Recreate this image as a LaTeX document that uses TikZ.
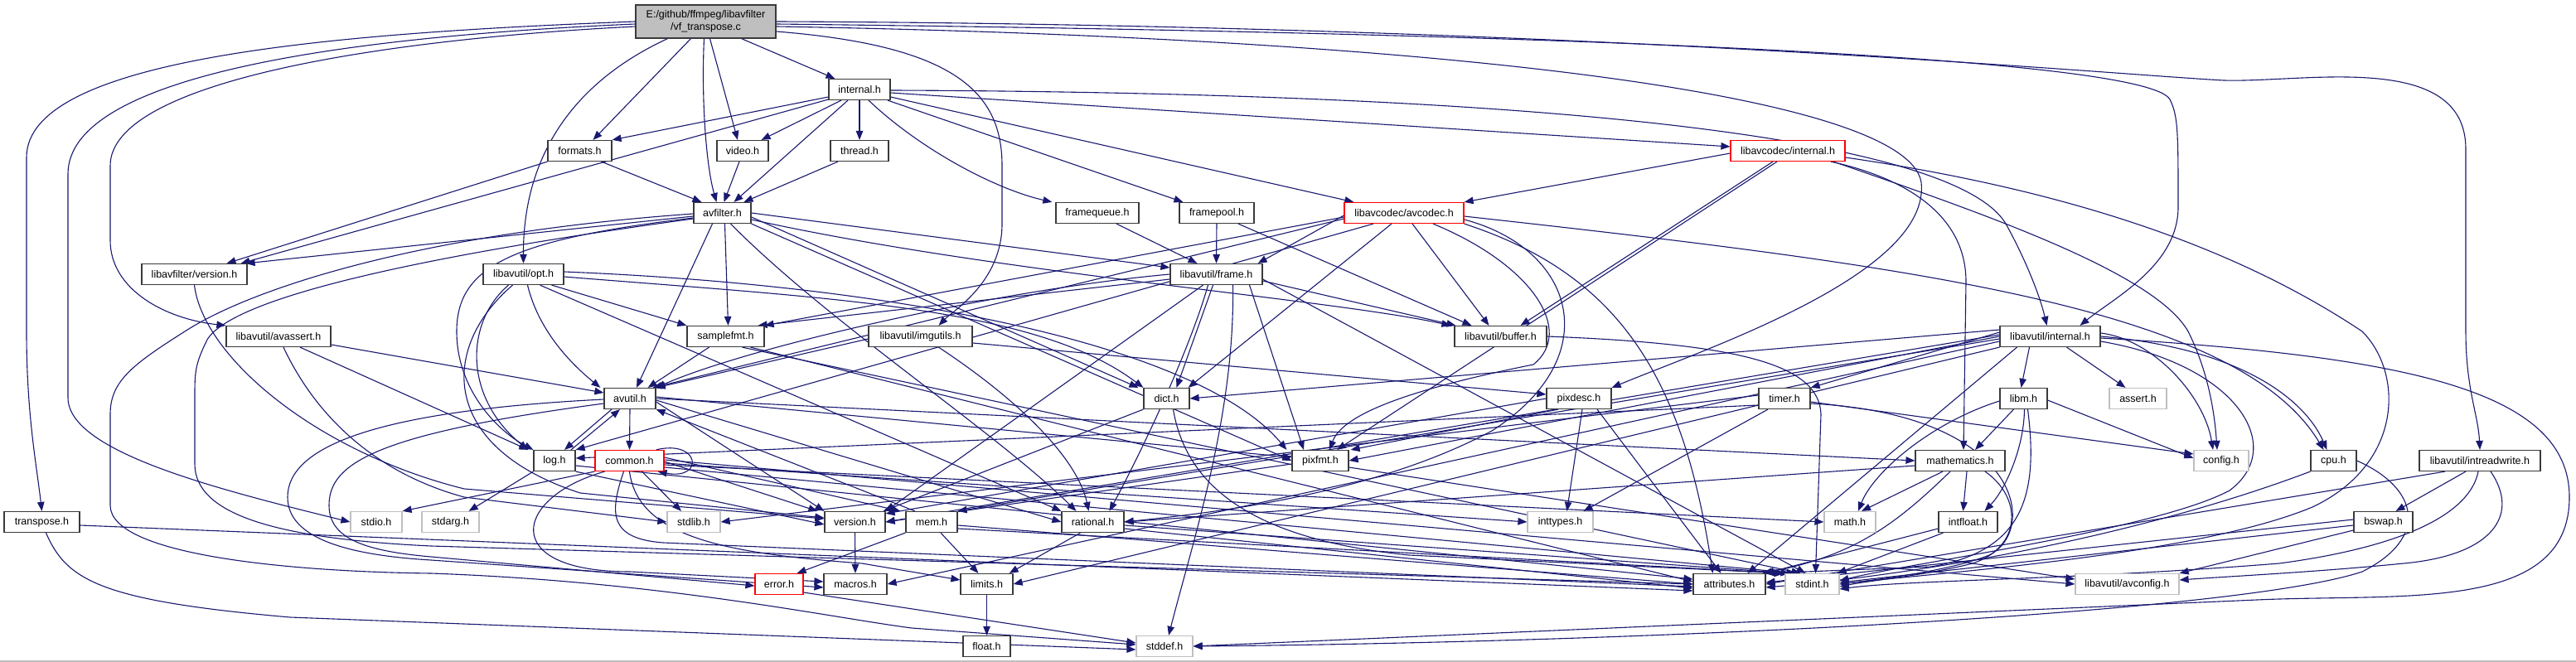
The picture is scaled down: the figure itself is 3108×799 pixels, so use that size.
\documentclass[tikz,border=0pt]{standalone}
\usepackage{fontspec}
\setmainfont{Liberation Sans}
\usetikzlibrary{arrows.meta}
\definecolor{edgec}{HTML}{191970}
\definecolor{rootfill}{HTML}{BFBFBF}
\definecolor{grayb}{HTML}{BFBFBF}
\definecolor{boxb}{HTML}{3A3A3A}
\pgfdeclarelayer{bg}
\pgfdeclarelayer{edges}
\pgfsetlayers{bg,edges,main}
\tikzset{
  box/.style={draw=boxb, line width=1.2pt, fill=white, minimum height=25pt, inner sep=0pt, font=\fontsize{12.5}{14}\selectfont},
  gbox/.style={box, draw=grayb},
  rbox/.style={box, draw=red},
  e/.style={draw=edgec, line width=1.1pt, -{Triangle[length=11pt,width=8.5pt]}},
}
\begin{document}
\begin{tikzpicture}[x=1pt,y=-1pt]
\useasboundingbox (0,0) rectangle (3108,799);
\begin{pgfonlayer}{bg}
\fill[white] (0,0) rectangle (3108,799);
\draw[grayb, line width=1.5pt] (0,798) -- (3108,798);
\end{pgfonlayer}
% nodes
\node[box, fill=rootfill, minimum width=169pt, minimum height=40pt, align=center, font=\fontsize{12.5}{15.5}\selectfont] (root) at (851.5,26) {E:/github/ffmpeg/libavfilter\\/vf\_transpose.c};
\node[box, minimum width=74pt] (internal) at (1037,108) {internal.h};
\node[box, minimum width=77pt] (formats) at (699.5,182) {formats.h};
\node[box, minimum width=62pt] (video) at (896,182) {video.h};
\node[box, minimum width=70pt] (thread) at (1037,182) {thread.h};
\node[rbox, minimum width=138pt] (lavcint) at (2157,182) {libavcodec/internal.h};
\node[box, minimum width=69pt] (avfilter) at (871.5,257) {avfilter.h};
\node[box, minimum width=100pt] (framequeue) at (1324,257) {framequeue.h};
\node[box, minimum width=90pt] (framepool) at (1468,257) {framepool.h};
\node[rbox, minimum width=144pt] (avcodec) at (1694,257) {libavcodec/avcodec.h};
\node[box, minimum width=127pt] (lavfver) at (234.5,331) {libavfilter/version.h};
\node[box, minimum width=97pt] (opt) at (631.5,331) {libavutil/opt.h};
\node[box, minimum width=111pt] (frame) at (1467.5,331) {libavutil/frame.h};
\node[box, minimum width=126pt] (avassert) at (336,406) {libavutil/avassert.h};
\node[box, minimum width=93pt] (samplefmt) at (875.5,406) {samplefmt.h};
\node[box, minimum width=125pt] (imgutils) at (1110.5,406) {libavutil/imgutils.h};
\node[box, minimum width=111pt] (buffer) at (1810.5,406) {libavutil/buffer.h};
\node[box, minimum width=121pt] (lavuint) at (2473.5,406) {libavutil/internal.h};
\node[box, minimum width=62pt] (avutil) at (760,481) {avutil.h};
\node[box, minimum width=55pt] (dict) at (1407.5,481) {dict.h};
\node[box, minimum width=78pt] (pixdesc) at (1905,481) {pixdesc.h};
\node[box, minimum width=62pt] (timer) at (2153,481) {timer.h};
\node[box, minimum width=57pt] (libm) at (2441.5,481) {libm.h};
\node[gbox, minimum width=69pt] (assert) at (2579.5,481) {assert.h};
\node[box, minimum width=50pt] (log) at (669,556) {log.h};
\node[rbox, minimum width=83pt] (common) at (759.5,556) {common.h};
\node[box, minimum width=68pt] (pixfmt) at (1593,556) {pixfmt.h};
\node[box, minimum width=108pt] (mathematics) at (2365,556) {mathematics.h};
\node[gbox, minimum width=66pt] (config) at (2680,556) {config.h};
\node[box, minimum width=55pt] (cpu) at (2815.5,556) {cpu.h};
\node[box, minimum width=146pt] (intreadwrite) at (2992,556) {libavutil/intreadwrite.h};
\node[box, minimum width=91pt] (transpose) at (50.5,630) {transpose.h};
\node[gbox, minimum width=62pt] (stdio) at (454,630) {stdio.h};
\node[gbox, minimum width=69pt] (stdarg) at (543.5,630) {stdarg.h};
\node[gbox, minimum width=64pt] (stdlib) at (837,630) {stdlib.h};
\node[box, minimum width=73pt] (version) at (1031.5,630) {version.h};
\node[box, minimum width=62pt] (mem) at (1124,630) {mem.h};
\node[box, minimum width=75pt] (rational) at (1318.5,630) {rational.h};
\node[gbox, minimum width=79pt] (inttypes) at (1882.5,630) {inttypes.h};
\node[gbox, minimum width=62pt] (math) at (2232,630) {math.h};
\node[box, minimum width=71pt] (intfloat) at (2374.5,630) {intfloat.h};
\node[box, minimum width=71pt] (bswap) at (2875.5,630) {bswap.h};
\node[rbox, minimum width=58pt] (error) at (940,705) {error.h};
\node[box, minimum width=76pt] (macros) at (1032,705) {macros.h};
\node[box, minimum width=63pt] (limits) at (1190.5,705) {limits.h};
\node[box, minimum width=87pt] (attributes) at (2086.5,705) {attributes.h};
\node[gbox, minimum width=65pt] (stdint) at (2186.5,705) {stdint.h};
\node[gbox, minimum width=125pt] (avconfig) at (2566.5,705) {libavutil/avconfig.h};
\node[box, minimum width=57pt] (float) at (1190.5,780) {float.h};
\node[gbox, minimum width=68pt] (stddef) at (1405,780) {stddef.h};

\begin{pgfonlayer}{edges}
% root
\draw[e] (root.west) .. controls (400,40) and (32,70) .. (32,190) -- (32,400) .. controls (32,500) and (44,560) .. (transpose.north);
\draw[e] ([yshift=-3pt]root.west) .. controls (420,44) and (82,90) .. (82,210) -- (82,480) .. controls (82,545) and (260,590) .. (stdio.west);
\draw[e] ([yshift=-6pt]root.west) .. controls (450,48) and (133,100) .. (133,200) -- (133,290) .. controls (133,350) and (200,385) .. (avassert.north west);
\draw[e] ([xshift=-46pt]root.south) .. controls (690,100) and (631,190) .. (opt.north);
\draw[e] ([xshift=-18pt]root.south) -- ([xshift=16pt]formats.north);
\draw[e] ([xshift=-2pt]root.south) .. controls (846,120) and (852,200) .. ([xshift=-7pt]avfilter.north);
\draw[e] ([xshift=5pt]root.south) -- ([xshift=-6pt]video.north);
\draw[e] ([xshift=43pt]root.south) -- ([xshift=8pt]internal.north west);
\draw[e] ([yshift=-12pt]root.east) .. controls (1150,55) and (1209,110) .. (1209,200) -- (1209,270) .. controls (1209,340) and (1150,375) .. ([xshift=22pt]imgutils.north);
\draw[e] ([yshift=-6pt]root.east) .. controls (1700,45) and (2300,110) .. (2318,220) .. controls (2330,330) and (2060,420) .. (pixdesc.north east);
\draw[e] ([yshift=-3pt]root.east) .. controls (1900,40) and (2590,70) .. (2618,120) .. controls (2628,140) and (2628,160) .. (2628,250) .. controls (2628,320) and (2550,360) .. ([xshift=36pt]lavuint.north);
\draw[e] (root.east) .. controls (1900,30) and (2550,90) .. (2683,97) .. controls (2780,100) and (2975,60) .. (2975,180) -- (2975,400) .. controls (2975,470) and (2990,500) .. (intreadwrite.north);
% internal.h
\draw[e] ([yshift=-9pt]internal.west) -- (formats.north east);
\draw[e] ([yshift=-12pt]internal.west) -- ([xshift=-8pt]lavfver.north east);
\draw[e] ([xshift=-22pt]internal.south) -- ([xshift=-9pt]video.north east);
\draw[e] ([xshift=-14pt]internal.south) -- ([xshift=14pt]avfilter.north);
\draw[e] (internal.south) -- (thread.north);
\draw[e] ([xshift=11pt]internal.south) .. controls (1110,180) and (1200,228) .. ([xshift=-4pt]framequeue.north west);
\draw[e] ([xshift=34pt]internal.south) -- ([xshift=5pt]framepool.north west);
\draw[e] ([yshift=-9pt]internal.east) -- ([xshift=12pt]avcodec.north west);
\draw[e] ([yshift=-4pt]internal.east) -- ([yshift=5pt]lavcint.west);
\draw[e] ([yshift=-1pt]internal.east) .. controls (1900,112) and (2360,170) .. (2420,270) .. controls (2445,315) and (2462,360) .. ([xshift=-4pt]lavuint.north);
% formats, video, thread, framequeue, framepool
\draw[e] ([xshift=26pt]formats.south) -- ([xshift=-25pt]avfilter.north);
\draw[e] (formats.south west) -- ([xshift=39pt]lavfver.north);
\draw[e] ([xshift=-4pt]video.south) -- ([xshift=2pt]avfilter.north);
\draw[e] ([xshift=-26pt]thread.south) -- ([xshift=26pt]avfilter.north);
\draw[e] ([xshift=23pt]framequeue.south) -- ([xshift=-23pt]frame.north);
\draw[e] (framepool.south) -- (frame.north);
\draw[e] ([xshift=26pt]framepool.south) -- ([xshift=21pt]buffer.north west);
% libavcodec/internal.h
\draw[e] ([yshift=-3pt]lavcint.west) -- (avcodec.north east);
\draw[e] ([xshift=-18pt]lavcint.south) -- ([xshift=24pt]buffer.north);
\draw[e] ([xshift=-13pt]lavcint.south) -- ([xshift=20pt]pixfmt.north);
\draw[e] ([xshift=52pt]lavcint.south) .. controls (2300,215) and (2372,260) .. (2372,340) -- ([xshift=4pt]mathematics.north);
\draw[e] ([xshift=55pt]lavcint.south) .. controls (2400,260) and (2600,330) .. (2640,400) .. controls (2665,450) and (2672,500) .. ([xshift=-5pt]config.north);
\draw[e] ([yshift=-8pt]lavcint.east) .. controls (2500,230) and (2700,300) .. (2850,400) .. controls (2900,450) and (2900,560) .. (2790,612) .. controls (2650,670) and (2350,690) .. (stdint.east);
% avfilter.h
\draw[e] ([yshift=-1pt]avfilter.west) .. controls (500,282) and (300,350) .. (223,400) .. controls (160,440) and (133,460) .. (133,500) -- (133,610) .. controls (133,670) and (350,690) .. (520,692) .. controls (800,702) and (1000,745) .. (1100,758) -- ([yshift=2pt]stddef.west);
\draw[e] ([yshift=-4pt]avfilter.west) -- ([xshift=-2pt]lavfver.north east);
\draw[e] ([yshift=-7pt]avfilter.west) .. controls (500,310) and (280,360) .. (250,410) .. controls (235,440) and (235,450) .. (235,480) -- (235,560) .. controls (235,620) and (330,650) .. (520,659) -- (attributes.west);
\draw[e] ([yshift=-6pt]avfilter.west) .. controls (620,289) and (551,320) .. (551,400) .. controls (551,470) and (600,520) .. (log.north west);
\draw[e] ([xshift=-12pt]avfilter.south) -- ([xshift=8pt]avutil.north);
\draw[e] ([xshift=3pt]avfilter.south) -- ([xshift=3pt]samplefmt.north);
\draw[e] (avfilter.east) -- ([yshift=8pt]frame.west);
\draw[e] ([yshift=-8pt]avfilter.east) .. controls (1200,330) and (1600,360) .. ([xshift=-4pt]buffer.north west);
\draw[e] ([yshift=-5pt]avfilter.east) -- ([xshift=-6pt]dict.north west);
\draw[e] (avfilter.south east) -- (pixfmt.west);
\draw[e] ([xshift=10pt]avfilter.south) .. controls (1000,390) and (1200,520) .. ([xshift=-20pt]rational.north);
% avcodec.h
\draw[e] ([yshift=-3pt]avcodec.west) -- ([xshift=-6pt]frame.north east);
\draw[e] ([yshift=-5pt]avcodec.west) -- (samplefmt.north east);
\draw[e] ([yshift=-7pt]avcodec.west) -- ([xshift=-4pt]avutil.north east);
\draw[e] ([xshift=-37pt]avcodec.south) -- (log.north east);
\draw[e] ([xshift=-15pt]avcodec.south) -- ([xshift=-2pt]dict.north east);
\draw[e] ([xshift=10pt]avcodec.south) -- ([xshift=-14pt]buffer.north);
\draw[e] ([xshift=35pt]avcodec.south) .. controls (1850,320) and (1900,400) .. (1850,440) .. controls (1700,470) and (1620,500) .. ([xshift=11pt]pixfmt.north);
\draw[e] ([yshift=-8pt]avcodec.east) .. controls (1900,300) and (1940,430) .. (1800,520) .. controls (1650,600) and (1450,620) .. (rational.east);
\draw[e] (avcodec.south east) .. controls (1950,330) and (2030,450) .. ([xshift=-20pt]attributes.north);
\draw[e] ([yshift=-4pt]avcodec.east) .. controls (2300,320) and (2700,370) .. ([xshift=-12pt]cpu.north);
% frame.h
\draw[e] ([xshift=20pt]frame.south) .. controls (1490,500) and (1440,650) .. ([xshift=5pt]stddef.north);
\draw[e] ([yshift=-6pt]frame.east) -- ([xshift=-8pt]stdint.north);
\draw[e] (frame.west) .. controls (1200,350) and (900,420) .. (avutil.north east);
\draw[e] ([yshift=-6pt]frame.west) -- ([xshift=-8pt]samplefmt.north east);
\draw[e] ([yshift=-8pt]frame.east) -- ([xshift=2pt]buffer.north west);
\draw[e] ([xshift=-4pt]frame.south) -- ([xshift=12pt]dict.north);
\draw[e] ([xshift=-16pt]frame.south) -- (version.north east);
\draw[e] ([xshift=-10pt]frame.south) .. controls (1436,420) and (1380,540) .. ([xshift=20pt]rational.north);
\draw[e] ([xshift=40pt]frame.south) -- ([xshift=-20pt]pixfmt.north);
% opt.h
\draw[e] ([xshift=-18pt]opt.south) .. controls (560,390) and (560,480) .. ([xshift=-32pt]log.north);
\draw[e] ([xshift=-13pt]opt.south) .. controls (530,420) and (530,540) .. (700,595) -- ([yshift=5pt]version.west);
\draw[e] ([xshift=5pt]opt.south) .. controls (650,400) and (690,440) .. ([xshift=-4pt]avutil.north west);
\draw[e] ([xshift=20pt]opt.south) -- (rational.north west);
\draw[e] ([xshift=34pt]opt.south) -- (samplefmt.north west);
\draw[e] ([yshift=-3pt]opt.east) .. controls (1000,360) and (1250,370) .. (dict.north west);
\draw[e] ([yshift=3pt]opt.east) .. controls (1100,345) and (1450,420) .. ([xshift=-6pt]pixfmt.north west);
% samplefmt.h
\draw[e] ([xshift=-20pt]samplefmt.south) -- ([xshift=-10pt]avutil.north east);
\draw[e] ([xshift=20pt]samplefmt.south) -- ([xshift=-14pt]stdint.north);
\draw[e] ([xshift=30pt]samplefmt.south) -- ([yshift=3pt]attributes.west);
% avassert.h
\draw[e] ([yshift=-10pt]avassert.east) -- ([yshift=7pt]avutil.west);
\draw[e] ([xshift=26pt]avassert.south) -- ([xshift=-6pt]log.north west);
\draw[e] ([xshift=6pt]avassert.south) .. controls (380,500) and (450,570) .. (560,600) -- (stdlib.west);
% imgutils.h
\draw[e] ([yshift=-3pt]imgutils.west) -- (avutil.north east);
\draw[e] ([yshift=-8pt]imgutils.east) -- ([yshift=5pt]pixdesc.west);
\draw[e] ([xshift=22pt]imgutils.south) .. controls (1253,499) and (1303,566) .. ([xshift=-5pt]rational.north);
% buffer.h
\draw[e] (buffer.east) .. controls (2100,415) and (2195,440) .. (2197,500) -- ([xshift=4pt]stdint.north);
% libavutil/internal.h
\draw[e] (lavuint.south west) -- (limits.east);
\draw[e] ([yshift=-6pt]lavuint.east) .. controls (2700,440) and (2760,540) .. (2690,592) .. controls (2600,640) and (2300,680) .. ([yshift=4pt]stdint.east);
\draw[e] ([yshift=-2pt]lavuint.east) .. controls (2900,430) and (3100,470) .. (3100,600) .. controls (3100,740) and (2900,716) .. (2723,724) -- (stddef.east);
\draw[e] ([xshift=20pt]lavuint.south) -- ([xshift=-15pt]assert.north);
\draw[e] ([yshift=4pt]lavuint.east) .. controls (2600,410) and (2660,480) .. ([xshift=-10pt]config.north);
\draw[e] ([xshift=-40pt]lavuint.south) -- ([xshift=-22pt]attributes.north east);
\draw[e] ([yshift=5pt]lavuint.west) -- (timer.north east);
\draw[e] (lavuint.east) .. controls (2700,420) and (2780,480) .. ([xshift=-8pt]cpu.north);
\draw[e] ([yshift=8pt]lavuint.west) -- (dict.east);
\draw[e] ([yshift=-6pt]lavuint.west) -- (macros.east);
\draw[e] ([yshift=-3pt]lavuint.west) -- (mem.north east);
\draw[e] (lavuint.west) -- (pixfmt.east);
\draw[e] ([yshift=2pt]lavuint.west) -- (version.east);
\draw[e] ([xshift=-25pt]lavuint.south) -- ([xshift=-3pt]libm.north);
% avutil.h
\draw[e] (avutil.south) -- (common.north);
\draw[e] ([xshift=-22pt]avutil.south) -- ([xshift=12pt]log.north);
\draw[e] ([yshift=-1pt]avutil.west) .. controls (450,496) and (347,540) .. (347,600) .. controls (347,650) and (420,670) .. (520,676) -- ([yshift=-4pt]macros.west);
\draw[e] ([yshift=-6pt]avutil.west) .. controls (450,524) and (397,560) .. (397,610) .. controls (397,650) and (440,665) .. (520,672) -- ([yshift=-2pt]error.west);
\draw[e] ([yshift=-4pt]avutil.east) -- (version.north west);
\draw[e] ([yshift=-2pt]avutil.east) -- (rational.west);
\draw[e] (avutil.east) -- (mathematics.west);
\draw[e] ([yshift=2pt]avutil.east) -- ([yshift=4pt]pixfmt.west);
% common.h
\draw[e] ([xshift=-10pt]common.north east) .. controls (845,530) and (850,580) .. ([xshift=-8pt]common.south east);
\draw[e] (common.south west) -- (stdio.north east);
\draw[e] ([xshift=15pt]common.south) -- ([xshift=-15pt]stdlib.north);
\draw[e] ([yshift=-3pt]common.east) -- (inttypes.west);
\draw[e] (common.south) .. controls (770,650) and (880,668) .. (1040,680) -- ([yshift=5pt]limits.west);
\draw[e] ([xshift=-7pt]common.south) .. controls (735,620) and (735,650) .. (800,655) -- ([yshift=-3pt]attributes.west);
\draw[e] ([yshift=-5pt]common.east) -- (math.west);
\draw[e] ([yshift=-8pt]common.east) -- ([xshift=-20pt]stdint.north);
\draw[e] ([xshift=-30pt]common.south) .. controls (620,600) and (600,690) .. (760,690) -- ([yshift=3pt]macros.west);
\draw[e] ([yshift=-1pt]common.east) -- ([xshift=-8pt]version.north west);
\draw[e] ([yshift=1pt]common.east) -- (avconfig.west);
\draw[e] ([yshift=4pt]common.east) -- ([xshift=-6pt]mem.north west);
% log.h
\draw[e] (log.south west) -- ([xshift=-13pt]stdarg.north east);
\draw[e] ([xshift=20pt]log.north) -- ([xshift=-12pt]avutil.south);
\draw[e] ([yshift=-6pt]log.east) -- ([yshift=6pt]attributes.west);
\draw[e] (log.south east) -- ([yshift=-3pt]version.west);
% libavfilter/version.h
\draw[e] (lavfver.south) .. controls (245,430) and (380,545) .. (560,590) -- ([yshift=4pt]version.west);
% version.h
\draw[e] (version.south) -- (macros.north);
% pixdesc.h
\draw[e] ([xshift=4pt]pixdesc.south) -- ([xshift=8pt]inttypes.north);
\draw[e] ([xshift=22pt]pixdesc.south) -- ([xshift=-10pt]attributes.north);
\draw[e] ([xshift=-25pt]pixdesc.south) -- ([xshift=2pt]pixfmt.north east);
\draw[e] (pixdesc.west) -- ([yshift=-3pt]version.north east);
% timer.h
\draw[e] ([yshift=4pt]timer.west) -- (stdlib.east);
\draw[e] ([yshift=-6pt]timer.east) .. controls (2440,500) and (2460,640) .. (2400,670) .. controls (2350,690) and (2260,700) .. (stdint.east);
\draw[e] ([xshift=-20pt]timer.south) -- ([xshift=-12pt]inttypes.north east);
\draw[e] ([yshift=-4pt]timer.east) -- ([yshift=8pt]config.west);
\draw[e] ([yshift=-8pt]timer.west) -- ([yshift=3pt]log.east);
% libm.h
\draw[e] ([yshift=-3pt]libm.west) .. controls (2330,510) and (2260,570) .. ([xshift=10pt]math.north);
\draw[e] ([xshift=-12pt]libm.south) -- ([xshift=18pt]mathematics.north);
\draw[e] ([xshift=1pt]libm.south) .. controls (2442,540) and (2420,590) .. ([xshift=20pt]intfloat.north);
\draw[e] ([yshift=-2pt]libm.east) -- ([yshift=3pt]config.west);
\draw[e] ([xshift=5pt]libm.south) .. controls (2460,600) and (2440,665) .. (2330,684) -- (attributes.north east);
% mathematics.h
\draw[e] ([xshift=-21pt]mathematics.south) -- ([xshift=14pt]math.north);
\draw[e] ([xshift=8pt]mathematics.south) -- ([xshift=-6pt]intfloat.north);
\draw[e] ([yshift=-6pt]mathematics.west) -- (rational.east);
\draw[e] ([xshift=-12pt]mathematics.south) .. controls (2290,630) and (2240,670) .. ([xshift=-4pt]attributes.north east);
\draw[e] ([xshift=30pt]mathematics.south) .. controls (2440,600) and (2440,660) .. (2380,680) .. controls (2320,695) and (2260,700) .. ([yshift=-3pt]stdint.east);
% intfloat.h
\draw[e] ([xshift=-30pt]intfloat.south) -- ([xshift=-3pt]stdint.north east);
\draw[e] ([yshift=-8pt]intfloat.west) -- ([xshift=-1pt]attributes.north east);
% cpu.h
\draw[e] (cpu.south west) .. controls (2600,640) and (2350,690) .. ([yshift=-4pt]attributes.east);
\draw[e] (cpu.east) .. controls (2920,590) and (2930,650) .. (2850,690) .. controls (2700,740) and (2000,775) .. (stddef.east);
% intreadwrite.h
\draw[e] ([xshift=-42pt]intreadwrite.south) -- (attributes.east);
\draw[e] ([xshift=-17pt]intreadwrite.south) -- ([xshift=15pt]bswap.north);
\draw[e] ([xshift=-2pt]intreadwrite.south) .. controls (2980,620) and (2900,660) .. (2750,680) .. controls (2500,700) and (2300,700) .. ([yshift=-6pt]stdint.east);
\draw[e] ([xshift=13pt]intreadwrite.south) .. controls (3040,620) and (3010,670) .. (2900,680) .. controls (2800,690) and (2700,695) .. ([yshift=5pt]avconfig.east);
% bswap.h
\draw[e] ([yshift=3pt]bswap.west) -- ([yshift=2pt]attributes.east);
\draw[e] ([yshift=-4pt]bswap.west) -- ([yshift=2pt]stdint.east);
\draw[e] ([yshift=-10pt]bswap.west) -- (avconfig.north east);
% pixfmt.h
\draw[e] ([yshift=-8pt]pixfmt.east) -- ([yshift=6pt]avconfig.west);
\draw[e] ([yshift=-4pt]pixfmt.west) -- (version.east);
% mem.h
\draw[e] ([xshift=11pt]mem.south) -- ([xshift=-10pt]limits.north);
\draw[e] (mem.south west) -- ([xshift=-8pt]error.north east);
\draw[e] ([xshift=-20pt]mem.north) -- (avutil.south east);
\draw[e] ([yshift=-4pt]mem.east) -- (attributes.west);
\draw[e] ([yshift=-8pt]mem.east) -- (stdint.north west);
% rational.h
\draw[e] ([xshift=-15pt]rational.south) -- ([xshift=-5pt]limits.north east);
\draw[e] ([yshift=-4pt]rational.east) -- ([xshift=6pt]stdint.north west);
\draw[e] ([yshift=-8pt]rational.east) -- ([yshift=-5pt]attributes.west);
% dict.h
\draw[e] (dict.south west) -- ([xshift=-3pt]version.north east);
\draw[e] ([xshift=8pt]dict.south) .. controls (1430,580) and (1500,650) .. (1700,670) -- ([xshift=-2pt]stdint.north west);
% error.h, limits.h
\draw[e] ([yshift=-10pt]error.east) -- ([yshift=4pt]stddef.west);
\draw[e] (limits.south) -- (float.north);
% transpose.h
\draw[e] ([xshift=5pt]transpose.south) .. controls (80,700) and (120,725) .. (350,745) -- ([yshift=-4pt]stddef.west);
\draw[e] ([yshift=-4pt]transpose.east) -- ([yshift=-8pt]attributes.west);
\end{pgfonlayer}
\end{tikzpicture}
\end{document}
